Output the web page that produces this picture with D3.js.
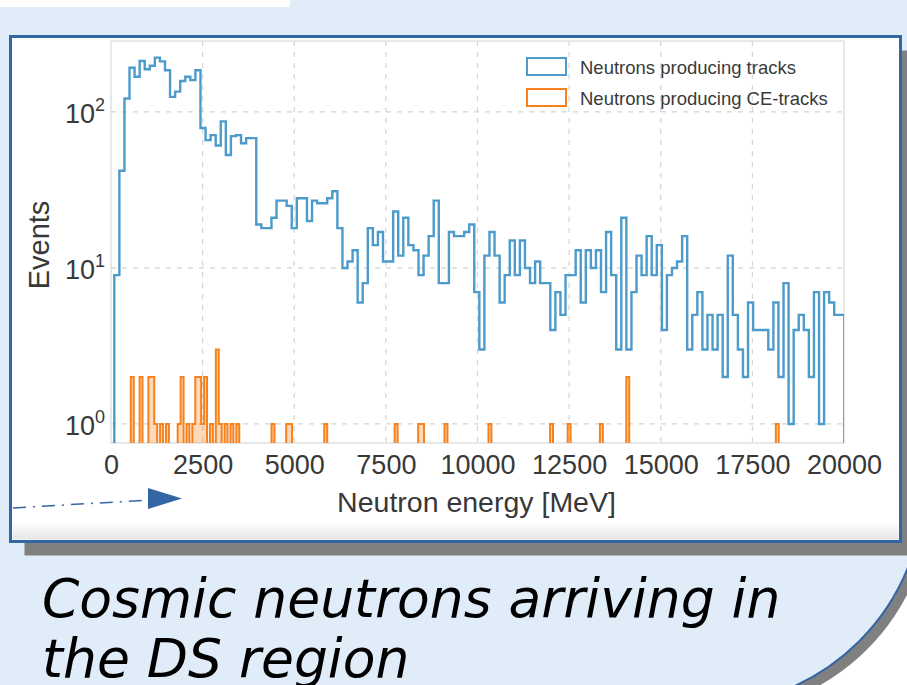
<!DOCTYPE html>
<html>
<head>
<meta charset="utf-8">
<script src="https://cdn.jsdelivr.net/npm/d3@7"></script>
<style>
  html, body { margin: 0; padding: 0; background: #ffffff; }
  svg { display: block; }
</style>
</head>
<body>
<svg id="slide" width="907" height="685"></svg>
<script>
// ---- Data -----------------------------------------------------------------
// Neutrons producing tracks: 144 equal bins over the energy range (MeV)
const trackRange = [90, 20010];
const trackCounts = [
  9, 42, 122, 192, 168, 212, 188, 198, 223, 211, 185, 125, 135, 158, 168, 160, 185,
  79, 66, 71, 61, 87, 53, 70, 71, 63, 68, 68,
  19, 18, 18, 21, 27, 27, 25, 18, 28, 28, 20, 27, 26, 26, 28, 31, 18,
  10, 11, 13, 6, 8, 18, 14, 17, 11, 11, 23, 12, 21, 14, 13, 9, 12, 16, 27, 8,
  8, 17, 16, 16, 17, 19, 7, 3, 12, 17, 12, 6, 9, 15, 9, 15, 10, 8, 11, 8,
  8, 4, 7, 5, 9, 9, 13, 6, 13,
  10, 13, 7, 17, 9, 3, 21, 3, 7, 12, 9, 16, 9, 14, 4, 9, 10, 11, 16, 3,
  5, 7, 3, 5, 3, 5, 2, 12, 5, 3, 2, 6, 4, 4, 4, 3, 6, 2, 8, 1,
  4, 5, 4, 2, 7, 1, 7, 6, 5, 5
];

// Neutrons producing CE-tracks: 80 MeV bins starting at 540 MeV (non-empty bins only)
const ceStart = 540;
const ceWidth = 80;
const ceBins   = [0, 3, 6, 7, 8, 10, 12, 16, 17, 19, 21, 22, 23, 24, 25, 27, 29, 30,
                  32, 34, 36, 48, 53, 54, 66, 90, 98, 99, 107, 122, 143, 149, 160, 169, 220];
const ceCounts = [2, 2, 2, 2, 1, 1, 1, 1, 2, 1, 1, 2, 2, 1, 2, 1, 3, 1,
                  1, 1, 1, 1, 1, 1, 1, 1, 1, 1, 1, 1, 1, 1, 1, 2, 1];

const xTicks = [0, 2500, 5000, 7500, 10000, 12500, 15000, 17500, 20000];
const yTicks = [1, 10, 100];
const legendLabels = ["Neutrons producing tracks", "Neutrons producing CE-tracks"];
const seriesColors = ["#4c9bcb", "#f7811c"];
const xLabel = "Neutron energy [MeV]";
const yLabel = "Events";
const captionLines = ["Cosmic neutrons arriving in", "the DS region"];

// ---- Slide frame ------------------------------------------------------------
const svg = d3.select("#slide");
const slideBlue = "#e0edf9";
const frameBlue = "#3465a4";

// light-blue content area with a large rounded corner and its shadow
svg.append("rect").attr("x", -250).attr("y", -250).attr("width", 1174).attr("height", 956)
  .attr("rx", 221).attr("fill", "#808080").attr("transform", "translate(8,8)");
svg.append("rect").attr("x", -250).attr("y", -250).attr("width", 1174).attr("height", 956)
  .attr("rx", 221).attr("fill", slideBlue).attr("stroke", frameBlue).attr("stroke-width", 2);
svg.append("rect").attr("x", 0).attr("y", 0).attr("width", 290).attr("height", 7).attr("fill", "#ffffff");

// picture box with drop shadow
const box = { x: 10.5, y: 36.5, w: 890, h: 505 };
svg.append("rect").attr("x", box.x + 14).attr("y", box.y + 14).attr("width", box.w).attr("height", box.h)
  .attr("fill", "#808080");
const defs = svg.append("defs");
const grad = defs.append("linearGradient").attr("id", "fade").attr("x1", 0).attr("x2", 0).attr("y1", 0).attr("y2", 1);
grad.append("stop").attr("offset", 0).attr("stop-color", "#ffffff");
grad.append("stop").attr("offset", 1).attr("stop-color", "#e6e6e6");
svg.append("rect").attr("x", box.x).attr("y", box.y).attr("width", box.w).attr("height", box.h)
  .attr("fill", "#ffffff");
svg.append("rect").attr("x", box.x + 2).attr("y", 522).attr("width", box.w - 4).attr("height", box.y + box.h - 524)
  .attr("fill", "url(#fade)");
svg.append("rect").attr("x", box.x).attr("y", box.y).attr("width", box.w).attr("height", box.h)
  .attr("fill", "none").attr("stroke", frameBlue).attr("stroke-width", 3);

// ---- Chart --------------------------------------------------------------------
const plot = { left: 111, right: 844, top: 41, bottom: 443 };
const x = d3.scaleLinear().domain([0, 20000]).range([plot.left, plot.right]);
const y = d3.scaleLog().domain([0.755, 285]).range([plot.bottom, plot.top]);
const font = "'Liberation Sans', Arial, sans-serif";
const ink = "#383838";

defs.append("clipPath").attr("id", "plotclip").append("rect")
  .attr("x", plot.left).attr("y", plot.top)
  .attr("width", plot.right - plot.left).attr("height", plot.bottom - plot.top);

const chart = svg.append("g");

// dashed grid
chart.append("g").selectAll("line").data(xTicks.slice(1, -1)).join("line")
  .attr("x1", d => x(d)).attr("x2", d => x(d)).attr("y1", plot.top).attr("y2", plot.bottom)
  .attr("stroke", "#d4d4d4").attr("stroke-width", 1.2).attr("stroke-dasharray", "5,6");
chart.append("g").selectAll("line").data(yTicks).join("line")
  .attr("x1", plot.left).attr("x2", plot.right).attr("y1", d => y(d)).attr("y2", d => y(d))
  .attr("stroke", "#d4d4d4").attr("stroke-width", 1.2).attr("stroke-dasharray", "5,6");

// plot frame
chart.append("rect").attr("x", plot.left).attr("y", plot.top)
  .attr("width", plot.right - plot.left).attr("height", plot.bottom - plot.top)
  .attr("fill", "none").attr("stroke", "#d9d9d9").attr("stroke-width", 1.2);

// step outline of a histogram; empty bins drop below the axis and get clipped
const floorY = plot.bottom + 10;
const stepLine = d3.line()
  .x(d => x(d.e))
  .y(d => d.c > 0 ? y(d.c) : floorY)
  .curve(d3.curveStepAfter);

function stepPoints(edges, counts) {
  const pts = [{ e: edges[0], c: 0 }];
  counts.forEach((c, i) => pts.push({ e: edges[i], c }));
  pts.push({ e: edges[counts.length], c: counts[counts.length - 1] });
  pts.push({ e: edges[counts.length], c: 0 });
  return pts;
}

const nTrack = trackCounts.length;
const trackEdges = d3.range(nTrack + 1).map(i => trackRange[0] + i * (trackRange[1] - trackRange[0]) / nTrack);

const nCe = d3.max(ceBins) + 1;
const ceFull = new Array(nCe).fill(0);
ceBins.forEach((b, i) => { ceFull[b] = ceCounts[i]; });
const ceEdges = d3.range(nCe + 1).map(i => ceStart + i * ceWidth);

const marks = chart.append("g").attr("clip-path", "url(#plotclip)");
marks.append("path").attr("d", stepLine(stepPoints(trackEdges, trackCounts)))
  .attr("fill", "none").attr("stroke", seriesColors[0]).attr("stroke-width", 2.4)
  .attr("stroke-linejoin", "miter");
marks.append("path").attr("d", stepLine(stepPoints(ceEdges, ceFull)))
  .attr("fill", seriesColors[1]).attr("fill-opacity", 0.3)
  .attr("stroke", seriesColors[1]).attr("stroke-width", 2)
  .attr("stroke-linejoin", "miter");

// x axis
const xAxis = chart.append("g").attr("transform", `translate(0,${plot.bottom})`)
  .call(d3.axisBottom(x).tickValues(xTicks).tickSize(0).tickFormat(d3.format("d")));
xAxis.select(".domain").remove();
xAxis.selectAll("text").attr("y", 31).attr("dy", 0)
  .attr("font-family", font).attr("font-size", 27).attr("fill", ink);

// y axis with power-of-ten labels
const yAxis = chart.append("g").attr("transform", `translate(${plot.left},0)`)
  .call(d3.axisLeft(y).tickValues(yTicks).tickSize(0).tickFormat(() => ""));
yAxis.select(".domain").remove();
yAxis.selectAll(".tick text").each(function (d) {
  const t = d3.select(this).attr("x", -6).attr("dy", 0).attr("y", 11)
    .attr("font-family", font).attr("font-size", 27).attr("fill", ink).attr("text-anchor", "end");
  t.append("tspan").text("10");
  t.append("tspan").attr("dy", -12).attr("font-size", 18).text(Math.round(Math.log10(d)));
});

// axis titles
chart.append("text").attr("x", x(10000) - 1).attr("y", 512).attr("text-anchor", "middle")
  .attr("font-family", font).attr("font-size", 28.5).attr("fill", ink).text(xLabel);
chart.append("text").attr("transform", "translate(49,245) rotate(-90)").attr("text-anchor", "middle")
  .attr("font-family", font).attr("font-size", 29).attr("fill", ink).text(yLabel);

// legend
const legend = chart.append("g").attr("transform", "translate(527,58)");
legendLabels.forEach((label, i) => {
  const row = legend.append("g").attr("transform", `translate(0,${i * 31})`);
  row.append("rect").attr("x", 0).attr("y", 0).attr("width", 39).attr("height", 17)
    .attr("fill", "none").attr("stroke", seriesColors[i]).attr("stroke-width", 2);
  row.append("text").attr("x", 53).attr("y", 16).attr("font-family", font).attr("font-size", 18.5)
    .attr("fill", "#3a3a3a").text(label);
});

// pointer arrow
svg.append("path").attr("d", "M13,508 L150,500").attr("stroke", frameBlue).attr("stroke-width", 1.5)
  .attr("fill", "none").attr("stroke-dasharray", "13,7,2,7");
svg.append("path").attr("d", "M148,488 L182,498.5 L148,509 Z").attr("fill", frameBlue);

// caption
const caption = svg.append("text").attr("font-family", "'DejaVu Sans', sans-serif")
  .attr("font-style", "italic").attr("font-size", 53.5).attr("fill", "#000000");
captionLines.forEach((line, i) => {
  caption.append("tspan").attr("x", 42).attr("y", 617 + i * 60).text(line);
});
</script>
</body>
</html>
